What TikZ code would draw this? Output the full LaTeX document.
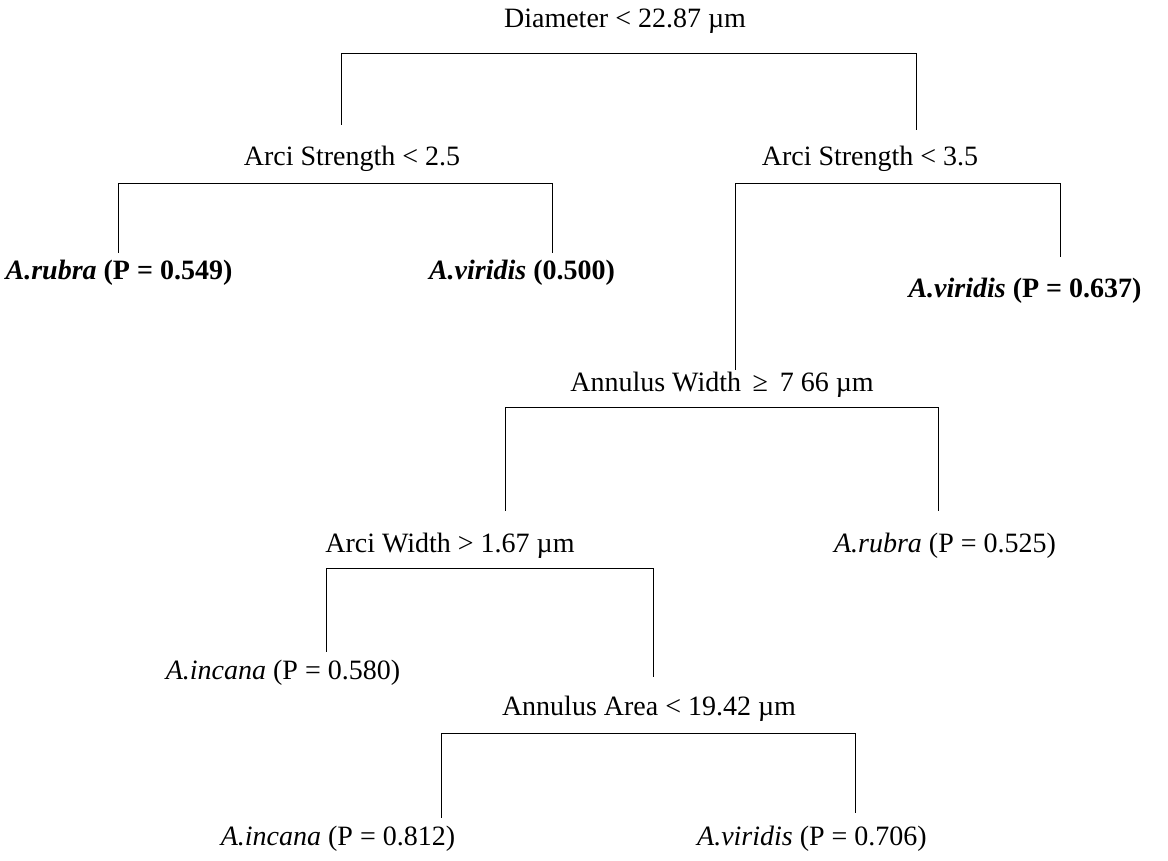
\documentclass[tikz,border=0pt]{standalone}
\usepackage{fontspec}
\setmainfont{Liberation Serif}
\usetikzlibrary{positioning}

\begin{document}
\begin{tikzpicture}[
    x=1pt, y=-1pt,
    cond/.style={inner sep=0pt, text height=20pt, text depth=6pt, font=\fontsize{28}{32}\selectfont},
    leaf/.style={cond},
    leafbold/.style={cond, font=\fontsize{28}{32}\selectfont\bfseries},
    branch/.style={draw, line width=1pt}
]
\useasboundingbox (0,0) rectangle (1168,860);

% split nodes
\node[cond] (Root) at (625,20) {Diameter < 22.87 µm};
\node[cond] (ArciL) at (352,158) {Arci Strength < 2.5};
\node[cond] (ArciR) at (870,158) {Arci Strength < 3.5};
\node[cond] (AnnWidth) at (722,384) {Annulus Width \,≥\, 7 66 µm};
\node[cond] (ArciWidth) at (450,545) {Arci Width > 1.67 µm};
\node[cond] (AnnArea) at (649,708) {Annulus Area < 19.42 µm};

% leaf nodes
\node[leafbold] (RubraA) at (119,272) {\textit{A.rubra} (P = 0.549)};
\node[leafbold] (ViridisA) at (522,272) {\textit{A.viridis} (0.500)};
\node[leafbold] (ViridisB) at (1025,290) {\textit{A.viridis} (P = 0.637)};
\node[leaf] (RubraB) at (945,545) {\textit{A.rubra} (P = 0.525)};
\node[leaf] (IncanaA) at (283,672) {\textit{A.incana} (P = 0.580)};
\node[leaf] (IncanaB) at (338,838) {\textit{A.incana} (P = 0.812)};
\node[leaf] (ViridisC) at (812,838) {\textit{A.viridis} (P = 0.706)};

% branches
\draw[branch] ([xshift=-11pt,yshift=20pt]ArciL.north) |- ([yshift=-20pt]Root.south) -| ([xshift=46pt,yshift=15pt]ArciR.north);
\draw[branch] ([xshift=-1pt,yshift=6pt]RubraA.north) |- ([yshift=-12pt]ArciL.south) -| ([xshift=30pt,yshift=6pt]ViridisA.north);
\draw[branch] ([xshift=13pt,yshift=1pt]AnnWidth.north) |- ([yshift=-12pt]ArciR.south) -| ([xshift=35pt,yshift=20pt]ViridisB.north);
\draw[branch] ([xshift=55pt,yshift=21pt]ArciWidth.north) |- ([yshift=-10pt]AnnWidth.south) -| ([xshift=-7pt,yshift=21pt]RubraB.north);
\draw[branch] ([xshift=43pt,yshift=7pt]IncanaA.north) |- ([yshift=-10pt]ArciWidth.south) -| ([xshift=4pt,yshift=18pt]AnnArea.north);
\draw[branch] ([xshift=103pt,yshift=7pt]IncanaB.north) |- ([yshift=-12pt]AnnArea.south) -| ([xshift=43pt,yshift=12pt]ViridisC.north);

\end{tikzpicture}
\end{document}
